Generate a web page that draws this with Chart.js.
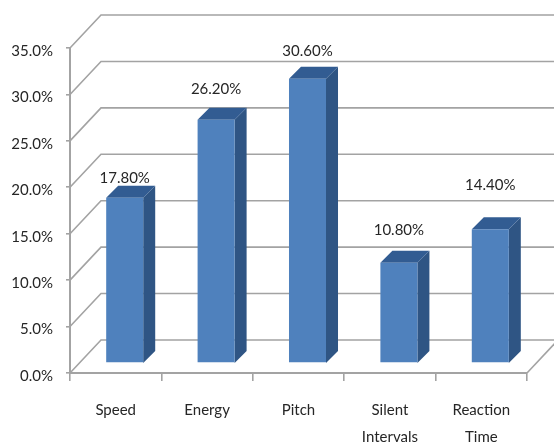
<!DOCTYPE html>
<html>
<head>
<meta charset="utf-8">
<title>Feature contribution</title>
<script src="https://cdn.jsdelivr.net/npm/chart.js@4/dist/chart.umd.min.js"></script>
<style>
    html, body { margin: 0; padding: 0; background: #fff; }
    canvas { display: block; }
</style>
</head>
<body>
<canvas id="barChart" width="554" height="445"></canvas>
<script>
const categories = [['Speed'], ['Energy'], ['Pitch'], ['Silent', 'Intervals'], ['Reaction', 'Time']];
const percentages = [17.8, 26.2, 30.6, 10.8, 14.4];
const axisMax = 35;
const axisStep = 5;

// how far each value label floats above the back edge of its bar
const labelLifts = [8, 19, 16, 21, 32];

const COLOR_FRONT = '#4f81bd';
const COLOR_SIDE = '#2f5584';
const COLOR_TOP = '#325c92';
const COLOR_GRID = '#a3a3a3';
const COLOR_TEXT = '#262626';
const FONT_FAMILY = 'Lato, "Liberation Sans", sans-serif';
const FONT_SIZE = 15;

// 3D look: the back wall sits up and to the right of the axes,
// the bars stand part way along that depth
const WALL_DX = 31;
const WALL_DY = -33;
const BAR_DX = 9;
const BAR_DY = -10;
const BAR_DEPTH_X = 12;
const BAR_DEPTH_Y = -12;

const wallPlugin = {
    id: 'wall',
    beforeDatasetsDraw(chart) {
        const { ctx, scales: { x, y }, width } = chart;
        ctx.save();
        ctx.strokeStyle = COLOR_GRID;
        ctx.lineWidth = 1.6;
        y.ticks.forEach(tick => {
            const py = y.getPixelForValue(tick.value);
            ctx.beginPath();
            ctx.moveTo(x.left, py);
            ctx.lineTo(x.left + WALL_DX, py + WALL_DY);
            ctx.lineTo(width, py + WALL_DY);
            ctx.stroke();
        });
        // right edge of the floor
        const floor = y.getPixelForValue(0);
        ctx.beginPath();
        ctx.moveTo(x.right, floor);
        ctx.lineTo(x.right + WALL_DX, floor + WALL_DY);
        ctx.stroke();
        ctx.restore();
    }
};

const depthPlugin = {
    id: 'depth',
    beforeDatasetsDraw(chart) {
        const { ctx, scales: { y } } = chart;
        const base = y.getPixelForValue(0) + BAR_DY;
        ctx.save();
        chart.getDatasetMeta(0).data.forEach((bar, i) => {
            const left = bar.x - bar.width / 2 + BAR_DX;
            const right = bar.x + bar.width / 2 + BAR_DX;
            const top = y.getPixelForValue(percentages[i]) + BAR_DY;

            ctx.fillStyle = COLOR_SIDE;
            ctx.beginPath();
            ctx.moveTo(right, top);
            ctx.lineTo(right + BAR_DEPTH_X, top + BAR_DEPTH_Y);
            ctx.lineTo(right + BAR_DEPTH_X, base + BAR_DEPTH_Y);
            ctx.lineTo(right, base);
            ctx.closePath();
            ctx.fill();

            ctx.fillStyle = COLOR_TOP;
            ctx.beginPath();
            ctx.moveTo(left, top);
            ctx.lineTo(left + BAR_DEPTH_X, top + BAR_DEPTH_Y);
            ctx.lineTo(right + BAR_DEPTH_X, top + BAR_DEPTH_Y);
            ctx.lineTo(right, top);
            ctx.closePath();
            ctx.fill();
        });
        ctx.restore();

        // the front faces are the real bars, just moved into the depth
        ctx.save();
        ctx.translate(BAR_DX, BAR_DY);
    },
    afterDatasetsDraw(chart) {
        const { ctx, scales: { y } } = chart;
        ctx.restore();

        ctx.save();
        ctx.fillStyle = COLOR_TEXT;
        ctx.font = FONT_SIZE + 'px ' + FONT_FAMILY;
        ctx.textAlign = 'center';
        ctx.textBaseline = 'middle';
        chart.getDatasetMeta(0).data.forEach((bar, i) => {
            const backEdge = y.getPixelForValue(percentages[i]) + BAR_DY + BAR_DEPTH_Y;
            ctx.fillText(percentages[i].toFixed(2) + '%', bar.x + BAR_DX, backEdge - labelLifts[i]);
        });
        ctx.restore();
    }
};

new Chart(document.getElementById('barChart').getContext('2d'), {
    type: 'bar',
    data: {
        labels: categories,
        datasets: [{
            data: percentages,
            backgroundColor: COLOR_FRONT,
            borderWidth: 0,
            barPercentage: 0.405,
            categoryPercentage: 1
        }]
    },
    plugins: [wallPlugin, depthPlugin],
    options: {
        responsive: false,
        animation: false,
        layout: { padding: { top: 48, right: 27, left: 0, bottom: 0 } },
        plugins: { legend: { display: false }, tooltip: { enabled: false } },
        scales: {
            x: {
                afterFit(scale) { scale.height = 72; },
                border: { color: COLOR_GRID, width: 2 },
                grid: { color: COLOR_GRID, drawOnChartArea: false, tickLength: 8, lineWidth: 1.6 },
                ticks: {
                    color: COLOR_TEXT,
                    font: { family: FONT_FAMILY, size: FONT_SIZE, lineHeight: '27px' },
                    padding: 16,
                    maxRotation: 0,
                    autoSkip: false
                }
            },
            y: {
                min: 0,
                max: axisMax,
                afterFit(scale) { scale.width = 70; },
                border: { color: COLOR_GRID, width: 2 },
                grid: { color: COLOR_GRID, drawOnChartArea: false, tickLength: 4, lineWidth: 1.6 },
                ticks: {
                    stepSize: axisStep,
                    color: COLOR_TEXT,
                    // blank first line nudges each label a little below its tick
                    font: { family: FONT_FAMILY, size: FONT_SIZE, lineHeight: '6px' },
                    padding: 13,
                    callback: value => ['', value.toFixed(1) + '%']
                }
            }
        }
    }
});
</script>
</body>
</html>
